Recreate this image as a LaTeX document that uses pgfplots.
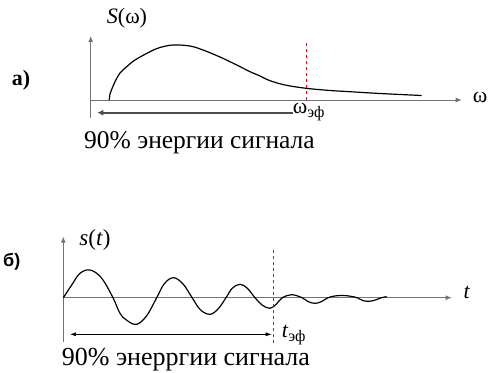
\documentclass[border=0pt]{standalone}
\usepackage{pgfplots}
\pgfplotsset{compat=1.18}
\usetikzlibrary{arrows.meta}
\usepackage{fontspec}
\setmainfont{Liberation Serif}
\newfontfamily\sansb{Liberation Sans}
\newcommand{\bigtxt}{\fontsize{25.5bp}{28bp}\selectfont}
\newcommand{\lab}{\fontsize{22bp}{25bp}\selectfont}
\begin{document}
\begin{tikzpicture}[x=1bp,y=1bp]
\path[use as bounding box] (0,0) rectangle (492,372);
% ---------- panel a ----------
\begin{axis}[at={(90.7bp,254bp)}, anchor=south west, scale only axis,
  width=371bp, height=82bp, xmin=0, xmax=371, ymin=-18, ymax=64,
  axis lines=middle, enlargelimits=false, xtick=\empty, ytick=\empty,
  clip=false, axis line style={black!55, line width=0.9pt, -{Latex[length=6pt,width=5pt]}}]
\addplot[smooth, tension=0.55, line width=1.2pt, black] coordinates {
 (18.6,0) (19.3,6) (22,13) (24.3,18.3) (29.3,27) (36,33.3) (44.3,40) (59.3,48.3)
 (69.3,52.5) (82.3,55) (99.3,54) (112.3,50) (129.3,43) (146,35) (159.3,28.3)
 (169.3,24) (179.3,19.3) (194.3,15) (215.3,11.7) (239.3,9.5) (259.3,8.3)
 (289.3,6.5) (331,4.5)};
\addplot[red, dashed, line width=0.7pt] coordinates {(215.3,0) (215.3,59.3)};
\addplot[black!70, line width=1.8pt, -{Latex[length=6pt,width=6pt]}] coordinates {(202,-12.7) (6.6,-12.7)};
\node at (axis cs:36.3,82) {\lab\textit{S}(ω)};
\node[anchor=west, inner sep=0] at (axis cs:382,3) {\lab ω};
\node[anchor=west, inner sep=0] at (axis cs:202,-12) {\lab ω\raisebox{-0.35ex}{\fontsize{16bp}{18bp}\selectfont эф}};
\node at (axis cs:108.8,-43) {\bigtxt 90\% энергии сигнала};
\node at (axis cs:-69.7,20) {\fontsize{22bp}{25bp}\selectfont\bfseries а)};
\end{axis}
% ---------- panel b ----------
\begin{axis}[at={(63.3bp,30.3bp)}, anchor=south west, scale only axis,
  width=388.4bp, height=105bp, xmin=0, xmax=388.4, ymin=-44, ymax=61,
  axis lines=middle, enlargelimits=false, xtick=\empty, ytick=\empty,
  clip=false, axis line style={black!55, line width=0.9pt, -{Latex[length=6pt,width=5pt]}}]
\addplot[smooth, tension=0.6, line width=1.2pt, black] coordinates {
 (0,0) (8.4,12.7) (16.7,24.4) (26.7,27.7) (38,20) (49.7,0)
 (56.7,-15.6) (64,-23) (73.4,-26.6) (83.4,-18) (93.4,0)
 (101,14) (110,20) (119.5,14) (128.4,0.7)
 (137,-12) (146.7,-16.6) (155,-11) (162.7,0)
 (169,9.5) (176.7,13.4) (184,9.5) (191.7,0)
 (199,-7.5) (206.7,-10.6) (213,-6.5) (219,0)
 (228.4,3) (238.7,0) (245,-4) (251.7,-5.6) (258,-4) (264.7,0)
 (272,1.8) (280,2.2) (287,1.5) (293.7,0) (300,-3) (306.7,-3.5) (313,-2) (318,0) (323.4,1)};
\addplot[red, dashed, line width=0.7pt] coordinates {(210,-45.3) (210,47.7)};
\addplot[black, line width=0.6pt, {Latex[length=6pt,width=4pt]}-{Latex[length=6pt,width=4pt]}] coordinates {(6.7,-36.6) (208.4,-36.6)};
\node at (axis cs:31.7,57.7) {\fontsize{23bp}{26bp}\selectfont\textit{s}(\textit{t})};
\node[anchor=west, inner sep=0] at (axis cs:400,5.7) {\lab\textit{t}};
\node[anchor=west, inner sep=0] at (axis cs:218.4,-37.3) {\lab\textit{t}\raisebox{-0.35ex}{\fontsize{16bp}{18bp}\selectfont эф}};
\node at (axis cs:122.7,-62.3) {\fontsize{26bp}{28bp}\selectfont 90\% энерргии сигнала};
\node at (axis cs:-51.5,35.7) {\fontsize{18bp}{20bp}\selectfont\sansb\bfseries б)};
\end{axis}
\end{tikzpicture}
\end{document}
